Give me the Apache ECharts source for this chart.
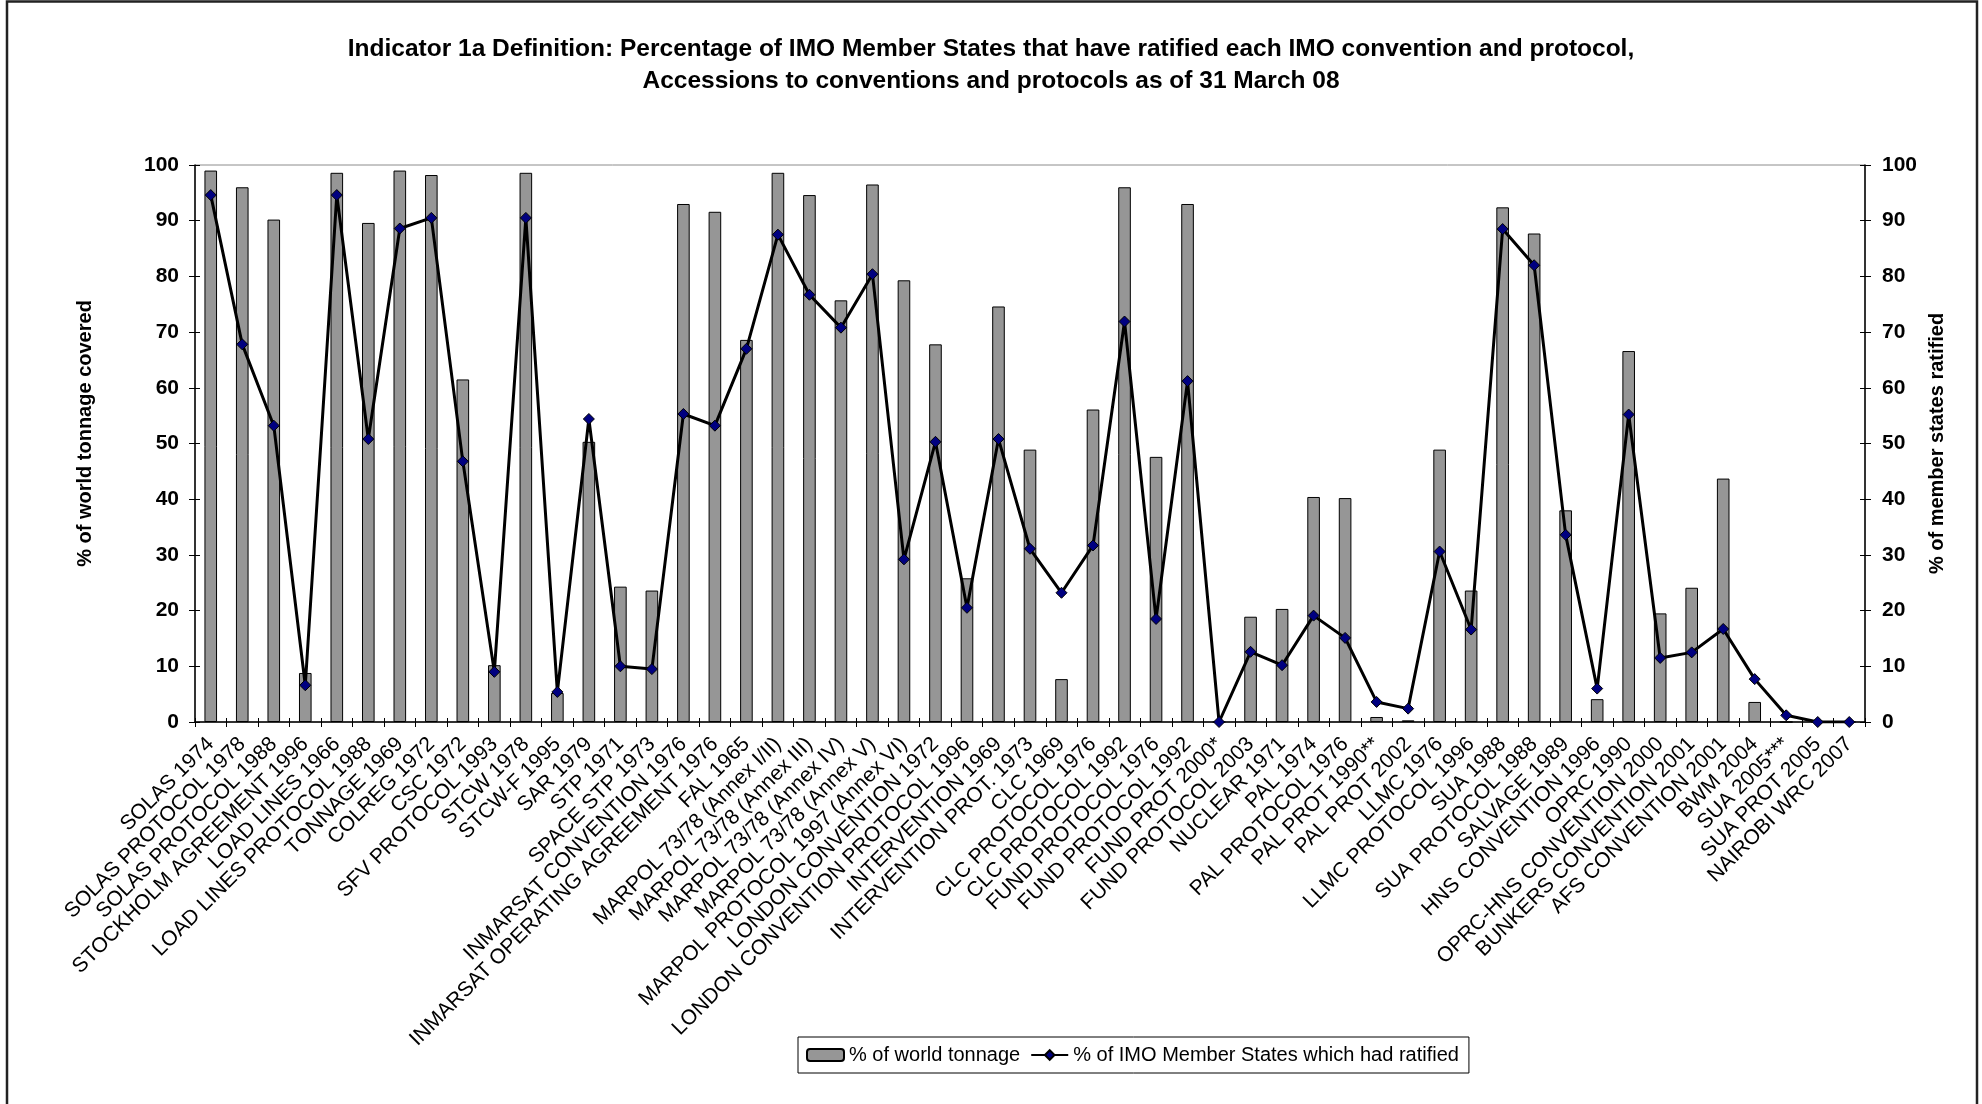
<!DOCTYPE html>
<html>
<head>
<meta charset="utf-8">
<script src="https://cdn.jsdelivr.net/npm/echarts@6/dist/echarts.min.js"></script>
<style>
  html, body { margin: 0; padding: 0; background: #fff; }
  #chart { width: 1982px; height: 1104px; }
</style>
</head>
<body>
<div id="chart"></div>
<script>
// Conventions and protocols
const conventions = [
  'SOLAS 1974', 'SOLAS PROTOCOL 1978', 'SOLAS PROTOCOL 1988', 'STOCKHOLM AGREEMENT 1996',
  'LOAD LINES 1966', 'LOAD LINES PROTOCOL 1988', 'TONNAGE 1969', 'COLREG 1972', 'CSC 1972',
  'SFV PROTOCOL 1993', 'STCW 1978', 'STCW-F 1995', 'SAR 1979', 'STP 1971', 'SPACE STP 1973',
  'INMARSAT CONVENTION 1976', 'INMARSAT OPERATING AGREEMENT 1976', 'FAL 1965',
  'MARPOL 73/78 (Annex I/II)', 'MARPOL 73/78 (Annex III)', 'MARPOL 73/78 (Annex IV)',
  'MARPOL 73/78 (Annex V)', 'MARPOL PROTOCOL 1997 (Annex VI)', 'LONDON CONVENTION 1972',
  'LONDON CONVENTION PROTOCOL 1996', 'INTERVENTION 1969', 'INTERVENTION PROT. 1973',
  'CLC 1969', 'CLC PROTOCOL 1976', 'CLC PROTOCOL 1992', 'FUND PROTOCOL 1976',
  'FUND PROTOCOL 1992', 'FUND PROT 2000*', 'FUND PROTOCOL 2003', 'NUCLEAR 1971', 'PAL 1974',
  'PAL PROTOCOL 1976', 'PAL PROT 1990**', 'PAL PROT 2002', 'LLMC 1976', 'LLMC PROTOCOL 1996',
  'SUA 1988', 'SUA PROTOCOL 1988', 'SALVAGE 1989', 'HNS CONVENTION 1996', 'OPRC 1990',
  'OPRC-HNS CONVENTION 2000', 'BUNKERS CONVENTION 2001', 'AFS CONVENTION 2001', 'BWM 2004',
  'SUA 2005***', 'SUA PROT 2005', 'NAIROBI WRC 2007'
];

// % of world tonnage covered by contracting states
const worldTonnage = [
  99.0, 96.0, 90.2, 8.8, 98.6, 89.6, 99.0, 98.2, 61.5, 10.2,
  98.6, 5.2, 50.3, 24.3, 23.6, 93.0, 91.6, 68.6, 98.6, 94.6,
  75.7, 96.5, 79.3, 67.8, 25.8, 74.6, 48.9, 7.7, 56.1, 96.0,
  47.6, 93.0, 0, 18.9, 20.3, 40.4, 40.2, 0.9, 0.3, 48.9,
  23.6, 92.4, 87.7, 38.0, 4.1, 66.6, 19.5, 24.1, 43.7, 3.6,
  0, 0, 0
];

// % of IMO Member States which had ratified
const statesRatified = [
  94.6, 67.8, 53.2, 6.6, 94.6, 50.8, 88.6, 90.5, 46.8, 9.0,
  90.5, 5.4, 54.4, 10.0, 9.5, 55.3, 53.2, 67.0, 87.5, 76.7,
  70.8, 80.4, 29.2, 50.3, 20.5, 50.8, 31.1, 23.2, 31.7, 71.9,
  18.5, 61.2, 0, 12.6, 10.2, 19.1, 15.1, 3.6, 2.4, 30.6,
  16.6, 88.5, 82.0, 33.6, 6.0, 55.2, 11.5, 12.5, 16.7, 7.7,
  1.2, 0, 0
];

const titleLines = [
  'Indicator 1a Definition: Percentage of IMO Member States that have ratified each IMO convention and protocol,',
  'Accessions to conventions and protocols as of 31 March 08'
];

const FONT = "'Liberation Sans', Arial, sans-serif";

const chart = echarts.init(document.getElementById('chart'), null, { renderer: 'canvas' });

const valueAxisBase = {
  type: 'value', min: 0, max: 100, interval: 10,
  splitLine: { show: false },
  axisLine: { show: true, lineStyle: { color: '#000', width: 1.5 } }
};

chart.setOption({
  animation: false,
  backgroundColor: '#fff',
  title: {
    text: titleLines.join('\n'),
    left: 'center',
    top: 28,
    textStyle: { fontFamily: FONT, fontWeight: 'bold', fontSize: 24.5, color: '#000', lineHeight: 32 }
  },
  grid: {
    left: 195, right: 117, top: 165, bottom: 382,
    show: true, borderColor: '#8c8c8c', borderWidth: 1, backgroundColor: 'transparent',
    outerBoundsMode: 'none'
  },
  legend: {
    left: 798, top: 1037,
    padding: [8, 10, 8, 8],
    itemGap: 10,
    itemWidth: 37, itemHeight: 12,
    borderColor: '#000', borderWidth: 1,
    textStyle: { fontFamily: FONT, fontSize: 20, color: '#000' },
    data: ['% of world tonnage', '% of IMO Member States which had ratified']
  },
  xAxis: [
    {
      type: 'category', data: conventions, position: 'bottom',
      boundaryGap: true,
      axisLine: { show: true, lineStyle: { color: '#000', width: 1.5 } },
      axisTick: { show: true, alignWithLabel: false, interval: 0, length: 5, lineStyle: { color: '#000' } },
      axisLabel: {
        interval: 0, rotate: 45, margin: 19,
        fontFamily: FONT, fontSize: 21, color: '#000'
      },
      splitLine: { show: false }
    },
    {
      type: 'category', data: conventions, position: 'bottom',
      boundaryGap: true,
      axisLine: { show: false },
      axisTick: { show: true, inside: true, interval: 0, length: 4, lineStyle: { color: '#000' } },
      axisLabel: { show: false },
      splitLine: { show: false }
    }
  ],
  yAxis: [
    Object.assign({}, valueAxisBase, {
      position: 'left',
      name: '% of world tonnage covered',
      nameLocation: 'middle', nameRotate: 90, nameGap: 100,
      nameTextStyle: { fontFamily: FONT, fontWeight: 'bold', fontSize: 20, color: '#000', padding: [0, 0, 0, 20] },
      axisTick: { show: true, length: 6, lineStyle: { color: '#000' } },
      axisLabel: { margin: 16, fontFamily: FONT, fontWeight: 'bold', fontSize: 21, color: '#000' }
    }),
    Object.assign({}, valueAxisBase, {
      position: 'right',
      name: '% of member states ratified',
      nameLocation: 'middle', nameRotate: 90, nameGap: 62,
      nameTextStyle: { fontFamily: FONT, fontWeight: 'bold', fontSize: 20, color: '#000' },
      axisTick: { show: true, length: 6, lineStyle: { color: '#000' } },
      axisLabel: { margin: 17, fontFamily: FONT, fontWeight: 'bold', fontSize: 21, color: '#000' }
    }),
    Object.assign({}, valueAxisBase, {
      position: 'left',
      axisLine: { show: false },
      axisTick: { show: true, inside: true, length: 5, lineStyle: { color: '#000' } },
      axisLabel: { show: false }
    }),
    Object.assign({}, valueAxisBase, {
      position: 'right',
      axisLine: { show: false },
      axisTick: { show: true, inside: true, length: 5, lineStyle: { color: '#000' } },
      axisLabel: { show: false }
    })
  ],
  series: [
    {
      name: '% of world tonnage',
      type: 'bar',
      xAxisIndex: 0, yAxisIndex: 0,
      data: worldTonnage,
      barWidth: '40%',
      itemStyle: { color: '#969696', borderColor: '#000', borderWidth: 1 }
    },
    {
      name: '% of IMO Member States which had ratified',
      type: 'line',
      xAxisIndex: 0, yAxisIndex: 1,
      data: statesRatified,
      symbol: 'diamond', symbolSize: 11,
      lineStyle: { color: '#000', width: 3 },
      itemStyle: { color: '#000080', borderColor: '#000', borderWidth: 1 },
      z: 5
    }
  ],
  graphic: [
    {
      type: 'rect',
      shape: { x: 7, y: 1.5, width: 1970, height: 1120 },
      style: { fill: 'none', stroke: '#222', lineWidth: 2.5 },
      silent: true
    }
  ]
});
</script>
</body>
</html>
